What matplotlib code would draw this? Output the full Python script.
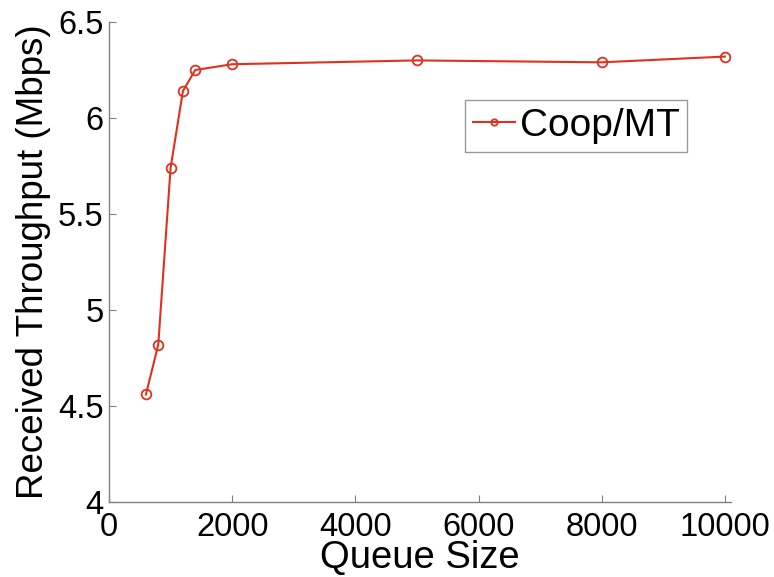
import matplotlib
matplotlib.use("Agg")
import matplotlib.pyplot as plt

plt.rcParams['font.family'] = ['Liberation Sans', 'DejaVu Sans']

# data
queue_size = [600, 800, 1000, 1200, 1400, 2000, 5000, 8000, 10000]
throughput = [4.56, 4.82, 5.74, 6.14, 6.25, 6.28, 6.30, 6.29, 6.32]
x_ticks = [0, 2000, 4000, 6000, 8000, 10000]
y_ticks = [4, 4.5, 5, 5.5, 6, 6.5]
y_tick_labels = ['4', '4.5', '5', '5.5', '6', '6.5']

fig = plt.figure(figsize=(7.74, 5.77), dpi=100)
ax = fig.add_axes([109 / 774, 75 / 577, 622 / 774, 480 / 577])

ax.plot(queue_size, throughput, color='#e0301e', linewidth=1.5, marker='o',
        markersize=7, markerfacecolor='none', markeredgewidth=1.3,
        label='Coop/MT')

ax.set_xlim(0, 10100)
ax.set_ylim(4, 6.5)
ax.set_xticks(x_ticks)
ax.set_yticks(y_ticks)
ax.set_yticklabels(y_tick_labels)

for side in ['top', 'right']:
    ax.spines[side].set_visible(False)
for side in ['left', 'bottom']:
    ax.spines[side].set_color('#808080')
    ax.spines[side].set_linewidth(1.0)

ax.tick_params(direction='in', length=5, width=0.8, color='#808080',
               labelsize=23.5)
ax.tick_params(axis='y', pad=4)
ax.tick_params(axis='x', pad=7)

ax.set_xlabel('Queue Size', fontsize=27.5, labelpad=-2)
ax.set_ylabel('Received Throughput (Mbps)', fontsize=26.5, labelpad=5)

leg = ax.legend(loc='upper left', bbox_to_anchor=(356 / 622, 1 - 78 / 480),
                fontsize=28, frameon=True, fancybox=False, handlelength=1.08,
                handletextpad=0.13, borderpad=0.2, borderaxespad=0,
                markerscale=0.65)
leg.get_frame().set_edgecolor('#808080')
leg.get_frame().set_linewidth(1.0)

fig.savefig('out.png', dpi=100)
